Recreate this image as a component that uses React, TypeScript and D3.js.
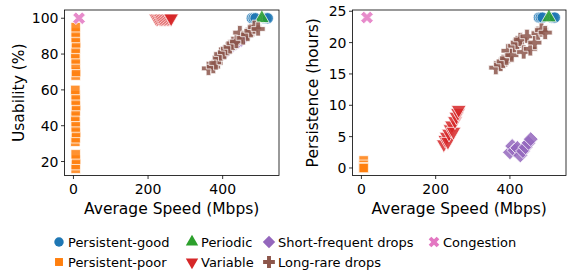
import React from 'react';
import * as d3 from 'd3';

// categories in legend / draw order
const categories = [
  'Persistent-good',
  'Persistent-poor',
  'Periodic',
  'Variable',
  'Short-frequent drops',
  'Long-rare drops',
  'Congestion',
];
const colors = ['#1f77b4', '#ff7f0e', '#2ca02c', '#d62728', '#9467bd', '#8c564b', '#e377c2'];

// per-category values: speed (Mbps), usability (%), persistence (hours)
const goodSpeed = [478, 483, 488, 512, 517, 521];
const goodUsability = [100, 100, 100, 100, 100, 100];
const goodPersistence = [24, 24, 24, 24, 24, 24];

const poorSpeed = [6, 6, 7, 6, 5, 6, 7, 6, 6, 5, 6, 7, 6, 6, 5, 6, 7, 6, 6, 5, 6, 7, 6, 6, 6];
const poorUsability = [16, 18, 21, 24, 31, 33, 36, 39, 42, 45, 48, 51, 54, 57, 60, 68, 70, 74, 77, 80, 83, 86, 89, 92, 95];
const poorPersistence = [0, 0, 0, 0, 0, 0, 0, 1.2, 0, 0, 0, 0, 0.3, 0, 0, 0, 0, 0, 0.5, 0, 0, 0, 0, 0, 0];

const periodicSpeed = [505];
const periodicUsability = [100];
const periodicPersistence = [24];

const variableSpeed = [222, 226, 230, 233, 236, 240, 244, 248, 252, 256, 260, 262];
const variableUsability = [100, 100, 100, 100, 100, 100, 100, 100, 100, 100, 100, 100];
const variablePersistence = [3.8, 4.5, 5.0, 4.2, 5.5, 6.2, 6.8, 5.8, 7.5, 8.2, 8.8, 9.3];

const shortSpeed = [400, 406, 412, 420, 428, 435, 442, 450, 456];
const shortUsability = [80, 81, 82, 84, 85, 86, 87, 88, 89];
const shortPersistence = [2.5, 3.5, 2.8, 3.2, 2.0, 2.7, 3.3, 4.0, 4.6];

const longSpeed = [362, 375, 382, 391, 395, 405, 413, 420, 428, 437, 446, 455, 467, 476, 485, 495];
const longUsability = [72, 73, 75, 78, 80, 81, 83, 84, 86, 87, 92, 89, 91, 93, 95, 94];
const longPersistence = [16, 16.5, 17, 17.5, 18.7, 18, 19.5, 20, 20.5, 18.5, 21, 19, 20, 21.5, 22, 21.6];

const congestionSpeed = [15];
const congestionUsability = [100];
const congestionPersistence = [24];

const seriesSpeed = [goodSpeed, poorSpeed, periodicSpeed, variableSpeed, shortSpeed, longSpeed, congestionSpeed];
const seriesUsability = [goodUsability, poorUsability, periodicUsability, variableUsability, shortUsability, longUsability, congestionUsability];
const seriesPersistence = [goodPersistence, poorPersistence, periodicPersistence, variablePersistence, shortPersistence, longPersistence, congestionPersistence];

const xTicks = [0, 200, 400];
const usabilityTicks = [20, 40, 60, 80, 100];
const persistenceTicks = [0, 5, 10, 15, 20, 25];

const width = 567;
const height = 270;
const font = 'DejaVu Sans, sans-serif';

// marker path per category (symbol, rotation, area)
const markers: [d3.SymbolType, number, number][] = [
  [d3.symbolCircle, 0, 100],
  [d3.symbolSquare, 0, 90],
  [d3.symbolTriangle, 0, 95],
  [d3.symbolTriangle, 180, 95],
  [d3.symbolSquare, 45, 110],
  [d3.symbolCross, 0, 110],
  [d3.symbolCross, 45, 100],
];

function Marker({ i, x, y, legend }: { i: number; x: number; y: number; legend?: boolean }) {
  const [type, rot, size] = markers[i];
  const d = d3.symbol().type(type).size(legend ? size * 0.7 : size)() || '';
  return (
    <path
      d={d}
      transform={`translate(${x},${y}) rotate(${rot})`}
      fill={colors[i]}
      fillOpacity={legend ? 1 : 0.85}
      stroke={legend ? 'none' : '#fff'}
      strokeWidth={0.75}
    />
  );
}

function Panel({
  left, right, top, bottom, yDomain, yTicks, yLabel, yValues, labelOffset,
}: {
  left: number; right: number; top: number; bottom: number;
  yDomain: [number, number]; yTicks: number[]; yLabel: string; yValues: number[][]; labelOffset: number;
}) {
  const x = d3.scaleLinear().domain([-24, 551]).range([left, right]);
  const y = d3.scaleLinear().domain(yDomain).range([bottom, top]);
  return (
    <g>
      <defs>
        <clipPath id={`clip-${left}`}>
          <rect x={left} y={top} width={right - left} height={bottom - top} />
        </clipPath>
      </defs>
      <g clipPath={`url(#clip-${left})`}>
        {categories.map((c, i) =>
          seriesSpeed[i].map((s, j) => (
            <Marker key={c + j} i={i} x={x(s)} y={y(yValues[i][j])} />
          ))
        )}
      </g>
      <rect x={left} y={top} width={right - left} height={bottom - top} fill="none" stroke="#000" strokeWidth={0.8} />
      {xTicks.map(t => (
        <g key={t} transform={`translate(${x(t)},${bottom})`}>
          <line y2={3.5} stroke="#000" strokeWidth={0.8} />
          <text y={18} textAnchor="middle" fontSize={14} fontFamily={font} fill="#000">{t}</text>
        </g>
      ))}
      {yTicks.map(t => (
        <g key={t} transform={`translate(${left},${y(t)})`}>
          <line x2={-3.5} stroke="#000" strokeWidth={0.8} />
          <text x={-6} dy="0.36em" textAnchor="end" fontSize={14} fontFamily={font} fill="#000">{t}</text>
        </g>
      ))}
      <text x={(left + right) / 2} y={bottom + 38} textAnchor="middle" fontSize={15.5} fontFamily={font} fill="#000">
        Average Speed (Mbps)
      </text>
      <text
        transform={`translate(${left - labelOffset},${(top + bottom) / 2}) rotate(-90)`}
        textAnchor="middle" fontSize={15.5} fontFamily={font} fill="#000"
      >
        {yLabel}
      </text>
    </g>
  );
}

const legendX = [59, 59, 192, 192, 269, 269, 434];
const legendY = [242, 262, 242, 262, 242, 262, 242];

export default function App() {
  return (
    <svg width={width} height={height} style={{ position: 'absolute', left: 0, top: 0, background: '#fff' }}>
      <Panel left={64.5} right={279} top={10} bottom={175.5} yDomain={[12.2, 104.6]}
        yTicks={usabilityTicks} yLabel="Usability (%)" yValues={seriesUsability} labelOffset={41} />
      <Panel left={352.5} right={566} top={10} bottom={175.5} yDomain={[-1.2, 25.2]}
        yTicks={persistenceTicks} yLabel="Persistence (hours)" yValues={seriesPersistence} labelOffset={35} />
      {categories.map((c, i) => (
        <g key={c}>
          <Marker i={i} x={legendX[i]} y={legendY[i]} legend />
          <text x={legendX[i] + 9} y={legendY[i]} dy="0.36em" fontSize={13} fontFamily={font} fill="#000">{c}</text>
        </g>
      ))}
    </svg>
  );
}
